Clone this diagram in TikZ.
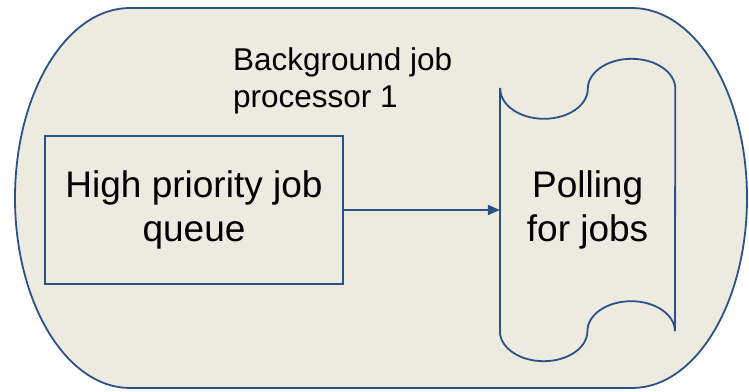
\documentclass[tikz,border=0pt]{standalone}
\usepackage{fontspec}
\setmainfont{Liberation Sans}
\usetikzlibrary{positioning,arrows.meta}
\definecolor{shapeline}{HTML}{2A5288}
\definecolor{shapefill}{HTML}{EDEBE0}
\tikzstyle{process}=[
	rectangle,
	draw=shapeline,
	line width=1.8pt,
	text=black,
	align=center,
	minimum width=298pt,
	minimum height=148pt,
	font=\fontsize{37}{44}\selectfont
	]
\tikzstyle{scrollbox}=[
	rectangle,
	inner sep=0pt,
	text=black,
	align=center,
	minimum width=175pt,
	minimum height=242pt,
	font=\fontsize{37}{44}\selectfont
	]

\begin{document}
\begin{tikzpicture}[x=1pt, y=1pt, >={Triangle[length=12pt,width=10pt]}]
	\useasboundingbox (0,0) rectangle (749,391);

	% container with elliptical ends
	\draw[draw=shapeline, fill=shapefill, line width=1.8pt]
		(130,383) -- (632,383)
		arc[start angle=90, end angle=-90, x radius=115pt, y radius=190pt]
		-- (130,3)
		arc[start angle=270, end angle=90, x radius=115pt, y radius=190pt]
		-- cycle;

	\node (title) [anchor=north west, inner sep=0pt, align=left, font=\fontsize{31.5}{37}\selectfont] at (233,344) {Background job\\processor 1};

	\node (queue) [process] at (194,181) {High priority job\\queue};

	\node (polling) [scrollbox, right=156pt of queue] {Polling\\for jobs};

	% scroll outline round the polling node
	\draw[draw=shapeline, line width=1.8pt]
		(polling.north west) -- (polling.south west)
		arc[start angle=180, end angle=360, x radius=43.75pt, y radius=30pt]
		arc[start angle=180, end angle=0, x radius=43.75pt, y radius=30pt]
		-- (polling.north east)
		arc[start angle=0, end angle=180, x radius=43.75pt, y radius=30pt]
		arc[start angle=0, end angle=-180, x radius=43.75pt, y radius=30pt]
		-- cycle;

	\draw[->, draw=shapeline, line width=1.8pt] (queue) -- (polling);
\end{tikzpicture}
\end{document}
